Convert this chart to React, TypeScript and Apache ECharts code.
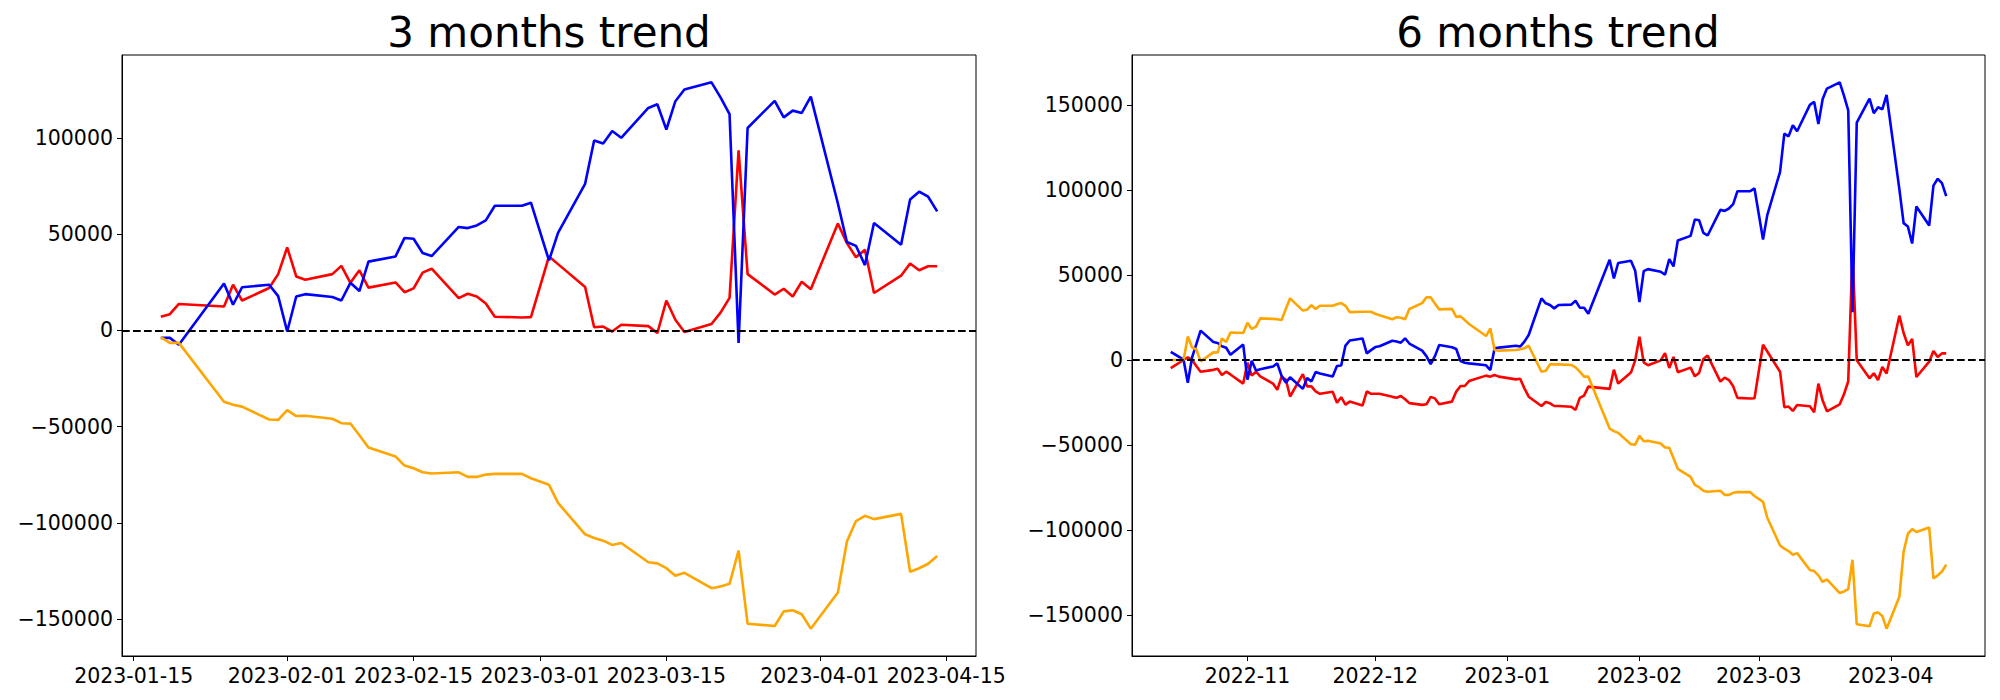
import React, { useEffect, useRef } from "react";
import * as echarts from "echarts";

// ---------- 3 months trend ----------
const L_DATES = [
  "2023-01-18", "2023-01-19", "2023-01-20", "2023-01-25", "2023-01-26", "2023-01-27", "2023-01-30", "2023-01-31",
  "2023-02-01", "2023-02-02", "2023-02-03", "2023-02-06", "2023-02-07", "2023-02-08", "2023-02-09", "2023-02-10",
  "2023-02-13", "2023-02-14", "2023-02-15", "2023-02-16", "2023-02-17", "2023-02-20", "2023-02-21", "2023-02-22",
  "2023-02-23", "2023-02-24", "2023-02-27", "2023-02-28", "2023-03-02", "2023-03-03", "2023-03-06", "2023-03-07",
  "2023-03-08", "2023-03-09", "2023-03-10", "2023-03-13", "2023-03-14", "2023-03-15", "2023-03-16", "2023-03-17",
  "2023-03-20", "2023-03-21", "2023-03-22", "2023-03-23", "2023-03-24", "2023-03-27", "2023-03-28", "2023-03-29",
  "2023-03-30", "2023-03-31", "2023-04-03", "2023-04-04", "2023-04-05", "2023-04-06", "2023-04-07", "2023-04-10",
  "2023-04-11", "2023-04-12", "2023-04-13", "2023-04-14",
];
const L_BLUE = [
  -3900, -3900, -7500, 24300, 13300, 22400, 23700, 17800,
  -600, 17600, 18800, 17300, 15500, 24700, 20400, 35700,
  38400, 48000, 47600, 40200, 38600, 53700, 53100, 54500,
  57100, 64700, 64700, 66300, 36300, 50600, 76100, 98600,
  97000, 103500, 100000, 115500, 117400, 104300, 119000, 125100,
  128800, 121000, 112300, -6500, 105100, 119200, 110600, 114100,
  112900, 121400, 65900, 45900, 43900, 33900, 55700, 44500,
  68000, 72000, 69400, 61800,
];
const L_RED = [
  7100, 8400, 13700, 12400, 23700, 15500, 22000, 29200,
  43100, 28000, 26300, 29200, 33500, 24700, 31200, 22200,
  24900, 19800, 21800, 30000, 32000, 16700, 19000, 17600,
  13900, 7100, 6700, 6900, 38400, 34400, 22500, 1600,
  2000, -600, 2900, 2200, -1400, 15500, 5500, -800,
  3300, 9200, 16900, 93500, 29200, 18600, 21600, 17600,
  25300, 21400, 55500, 45300, 38000, 41800, 19400, 28400,
  34700, 31200, 33300, 33300,
];
const L_ORANGE = [
  -3500, -6500, -6500, -37100, -38600, -39600, -46300, -46500,
  -41400, -44500, -44300, -45900, -48200, -48400, -54500, -60800,
  -65500, -70200, -71600, -73700, -74300, -73700, -76100, -76100,
  -74900, -74500, -74500, -76800, -80200, -89600, -105900, -107800,
  -109200, -111400, -110400, -120400, -121000, -123500, -127400, -125900,
  -133900, -133000, -131600, -114300, -152300, -153500, -145900, -145300,
  -147400, -154900, -136100, -109600, -99000, -96300, -98000, -95300,
  -125300, -123500, -121200, -117200,
];
const L_XTICKS = ["2023-01-15", "2023-02-01", "2023-02-15", "2023-03-01", "2023-03-15", "2023-04-01", "2023-04-15"];
const L_YTICKS = [-150000, -100000, -50000, 0, 50000, 100000];

// ---------- 6 months trend ----------
const R_DATES = [
  "2022-10-14", "2022-10-17", "2022-10-18", "2022-10-19", "2022-10-20", "2022-10-21", "2022-10-24", "2022-10-25",
  "2022-10-26", "2022-10-27", "2022-10-28", "2022-10-31", "2022-11-01", "2022-11-02", "2022-11-03", "2022-11-04",
  "2022-11-07", "2022-11-08", "2022-11-09", "2022-11-10", "2022-11-11", "2022-11-14", "2022-11-15", "2022-11-16",
  "2022-11-17", "2022-11-18", "2022-11-21", "2022-11-22", "2022-11-23", "2022-11-24", "2022-11-25", "2022-11-28",
  "2022-11-29", "2022-11-30", "2022-12-01", "2022-12-02", "2022-12-05", "2022-12-06", "2022-12-07", "2022-12-08",
  "2022-12-09", "2022-12-12", "2022-12-13", "2022-12-14", "2022-12-15", "2022-12-16", "2022-12-19", "2022-12-20",
  "2022-12-21", "2022-12-22", "2022-12-23", "2022-12-27", "2022-12-28", "2022-12-29", "2022-12-30", "2023-01-03",
  "2023-01-04", "2023-01-05", "2023-01-06", "2023-01-09", "2023-01-10", "2023-01-11", "2023-01-12", "2023-01-13",
  "2023-01-16", "2023-01-17",
  ...L_DATES,
];
const R_BLUE = [
  4800, 200, -13400, 1500, 9300, 17300, 10600, 10000,
  8100, 7200, 3100, 9100, -11600, -500, -6200, -5500,
  -3800, -2000, -9300, -13300, -10200, -17000, -10600, -12700,
  -7100, -8000, -9700, -3500, -3200, 8500, 11500, 12700,
  3900, 5800, 7600, 8100, 11300, 10900, 10200, 12700,
  9700, 5500, 2300, -2500, 2300, 8800, 7500, 6500,
  -600, -1600, -2000, -3100, -5900, 6900, 7300, 8400,
  7900, 10800, 14700, 36300, 33400, 32400, 30400, 32400,
  32600, 34900,
  30800, 30800, 27200, 59000, 48000, 57100, 58400, 52500,
  34100, 52300, 53500, 52000, 50200, 59400, 55100, 70400,
  73100, 82700, 82300, 74900, 73300, 88400, 87800, 89200,
  91800, 99400, 99400, 101000, 71000, 85300, 110800, 133300,
  131700, 138200, 134700, 150200, 152100, 139000, 153700, 159800,
  163500, 155700, 147000, 28200, 139800, 153900, 145300, 148800,
  147600, 156100, 100600, 80600, 78600, 68600, 90400, 79200,
  102700, 106700, 104100, 96500,
];
const R_RED = [
  -4800, 0, 1600, 0, -3500, -6900, -5800, -5100,
  -8800, -6900, -8500, -13900, -1600, -9200, -6900, -9700,
  -13900, -17500, -9900, -11500, -21500, -8300, -15500, -15500,
  -18500, -19900, -18700, -25200, -21900, -26300, -24500, -26800,
  -18500, -19900, -19900, -19900, -21700, -22200, -21200, -23100,
  -25400, -26400, -26100, -21700, -22600, -26100, -24500, -18600,
  -15300, -15300, -12400, -9200, -9800, -8800, -9800, -11400,
  -11000, -16700, -21600, -27100, -24700, -25500, -27100, -27100,
  -27500, -29400,
  -22300, -21000, -15700, -17000, -5700, -13900, -7400, -200,
  13700, -1400, -3100, -200, 4100, -4700, 1800, -7200,
  -4500, -9600, -7600, 600, 2600, -12700, -10400, -11800,
  -15500, -22300, -22700, -22500, 9000, 5000, -6900, -27800,
  -27400, -30000, -26500, -27200, -30800, -13900, -23900, -30200,
  -26100, -20200, -12500, 64100, -200, -10800, -7800, -11800,
  -4100, -8000, 26100, 15900, 8600, 12400, -10000, -1000,
  5300, 1800, 3900, 3900,
];
const R_ORANGE = [
  0, 0, 13800, 7400, 6200, -800, 4500, 4400,
  12700, 10600, 16200, 15900, 21900, 18300, 19600, 24500,
  24200, 24000, 23600, 30000, 36300, 29100, 29600, 32300,
  30000, 31900, 31900, 32800, 33500, 31900, 28200, 28400,
  28400, 28400, 27200, 26300, 24000, 25200, 24900, 24000,
  30000, 33500, 36900, 36900, 33200, 29800, 30100, 25400,
  25700, 23500, 21200, 14100, 18600, 5900, 5500, 5900,
  6300, 6900, 8400, -6900, -6300, -2600, -2600, -2600,
  -2900, -4300,
  -6800, -9800, -9800, -40400, -41900, -42900, -49600, -49800,
  -44700, -47800, -47600, -49200, -51500, -51700, -57800, -64100,
  -68800, -73500, -74900, -77000, -77600, -77000, -79400, -79400,
  -78200, -77800, -77800, -80100, -83500, -92900, -109200, -111100,
  -112500, -114700, -113700, -123700, -124300, -126800, -130700, -129200,
  -137200, -136300, -134900, -117600, -155600, -156800, -149200, -148600,
  -150700, -158200, -139400, -112900, -102300, -99600, -101300, -98600,
  -128600, -126800, -124500, -120500,
];
const R_XTICKS = ["2022-11-01", "2022-12-01", "2023-01-01", "2023-02-01", "2023-03-01", "2023-04-01"];
const R_YTICKS = [-150000, -100000, -50000, 0, 50000, 100000, 150000];

const TITLES = ["3 months trend", "6 months trend"];
const COLORS = { red: "#ff0000", blue: "#0000ff", orange: "#ffa500" };
const FONT = "DejaVu Sans";

function ts(d: string): number {
  const [y, m, dd] = d.split("-").map(Number);
  return Date.UTC(y, m - 1, dd);
}
function pairs(dates: string[], vals: number[]) {
  return dates.map((d, i) => [ts(d), vals[i]]);
}
function padRange(lo: number, hi: number): [number, number] {
  const r = hi - lo;
  return [lo - 0.05 * r, hi + 0.05 * r];
}
const p2 = (n: number) => (n < 10 ? "0" + n : "" + n);
function fmtDay(v: number) {
  const d = new Date(v);
  return `${d.getUTCFullYear()}-${p2(d.getUTCMonth() + 1)}-${p2(d.getUTCDate())}`;
}
function fmtMonth(v: number) {
  const d = new Date(v);
  return `${d.getUTCFullYear()}-${p2(d.getUTCMonth() + 1)}`;
}
function fmtY(v: number) {
  const n = Math.round(v);
  return n < 0 ? "\u2212" + Math.abs(n) : String(n);
}

export default function App() {
  const ref = useRef<HTMLDivElement>(null);
  useEffect(() => {
    document.body.style.margin = "0";
    if (!ref.current) return;
    const chart = echarts.init(ref.current, undefined, { renderer: "svg" });

    const panels = [
      { dates: L_DATES, blue: L_BLUE, red: L_RED, orange: L_ORANGE, xt: L_XTICKS, yt: L_YTICKS, fmt: fmtDay },
      { dates: R_DATES, blue: R_BLUE, red: R_RED, orange: R_ORANGE, xt: R_XTICKS, yt: R_YTICKS, fmt: fmtMonth },
    ];
    const grids = [
      { left: 122, top: 55, width: 854, height: 601 },
      { left: 1132, top: 55, width: 853, height: 601 },
    ];

    const xAxis: any[] = [];
    const yAxis: any[] = [];
    const series: any[] = [];
    panels.forEach((p, i) => {
      const xs = p.dates.map(ts);
      const [xmin, xmax] = padRange(Math.min(...xs), Math.max(...xs));
      const all = [...p.blue, ...p.red, ...p.orange];
      const [ymin, ymax] = padRange(Math.min(...all), Math.max(...all));
      const xTickVals = p.xt.map(ts);
      xAxis.push({
        type: "value",
        gridIndex: i,
        min: xmin,
        max: xmax,
        splitLine: { show: false },
        axisLine: { show: true, onZero: false, lineStyle: { color: "#000", width: 1 } },
        axisTick: { show: true, length: 5, lineStyle: { color: "#000", width: 1 }, customValues: xTickVals },
        axisLabel: {
          color: "#000",
          fontFamily: FONT,
          fontSize: 20.5,
          margin: 9,
          customValues: xTickVals,
          formatter: (v: number) => p.fmt(v),
        },
      });
      yAxis.push({
        type: "value",
        gridIndex: i,
        min: ymin,
        max: ymax,
        splitLine: { show: false },
        axisLine: { show: true, onZero: false, lineStyle: { color: "#000", width: 1 } },
        axisTick: { show: true, length: 5, lineStyle: { color: "#000", width: 1 }, customValues: p.yt },
        axisLabel: {
          color: "#000",
          fontFamily: FONT,
          fontSize: 20.5,
          margin: 9,
          customValues: p.yt,
          formatter: (v: number) => fmtY(v),
        },
      });
      const mk = (name: string, vals: number[], color: string, extra: any = {}) => ({
        name: name,
        type: "line",
        xAxisIndex: i,
        yAxisIndex: i,
        data: pairs(p.dates, vals),
        showSymbol: false,
        symbol: "none",
        lineStyle: { color, width: 2.6 },
        itemStyle: { color },
        silent: true,
        ...extra,
      });
      series.push(mk("red" + i, p.red, COLORS.red));
      series.push(mk("blue" + i, p.blue, COLORS.blue));
      series.push(
        mk("orange" + i, p.orange, COLORS.orange, {
          markLine: {
            silent: true,
            symbol: ["none", "none"],
            label: { show: false },
            lineStyle: { color: "#000", type: [7.7, 3.3], width: 2 },
            data: [{ yAxis: 0 }],
          },
        })
      );
    });

    chart.setOption({
      animation: false,
      backgroundColor: "#fff",
      grid: grids.map((g) => ({ ...g, show: true, borderColor: "#000", borderWidth: 1, backgroundColor: "transparent" })),
      xAxis,
      yAxis,
      series,
      graphic: [
        {
          type: "text",
          x: 549,
          y: 32,
          style: { text: TITLES[0], fontSize: 42, fontFamily: FONT, fill: "#000", align: "center", verticalAlign: "middle" },
        },
        {
          type: "text",
          x: 1558,
          y: 32,
          style: { text: TITLES[1], fontSize: 42, fontFamily: FONT, fill: "#000", align: "center", verticalAlign: "middle" },
        },
      ],
    });
    return () => chart.dispose();
  }, []);
  return <div ref={ref} style={{ position: "absolute", left: 0, top: 0, width: 2000, height: 700 }} />;
}
